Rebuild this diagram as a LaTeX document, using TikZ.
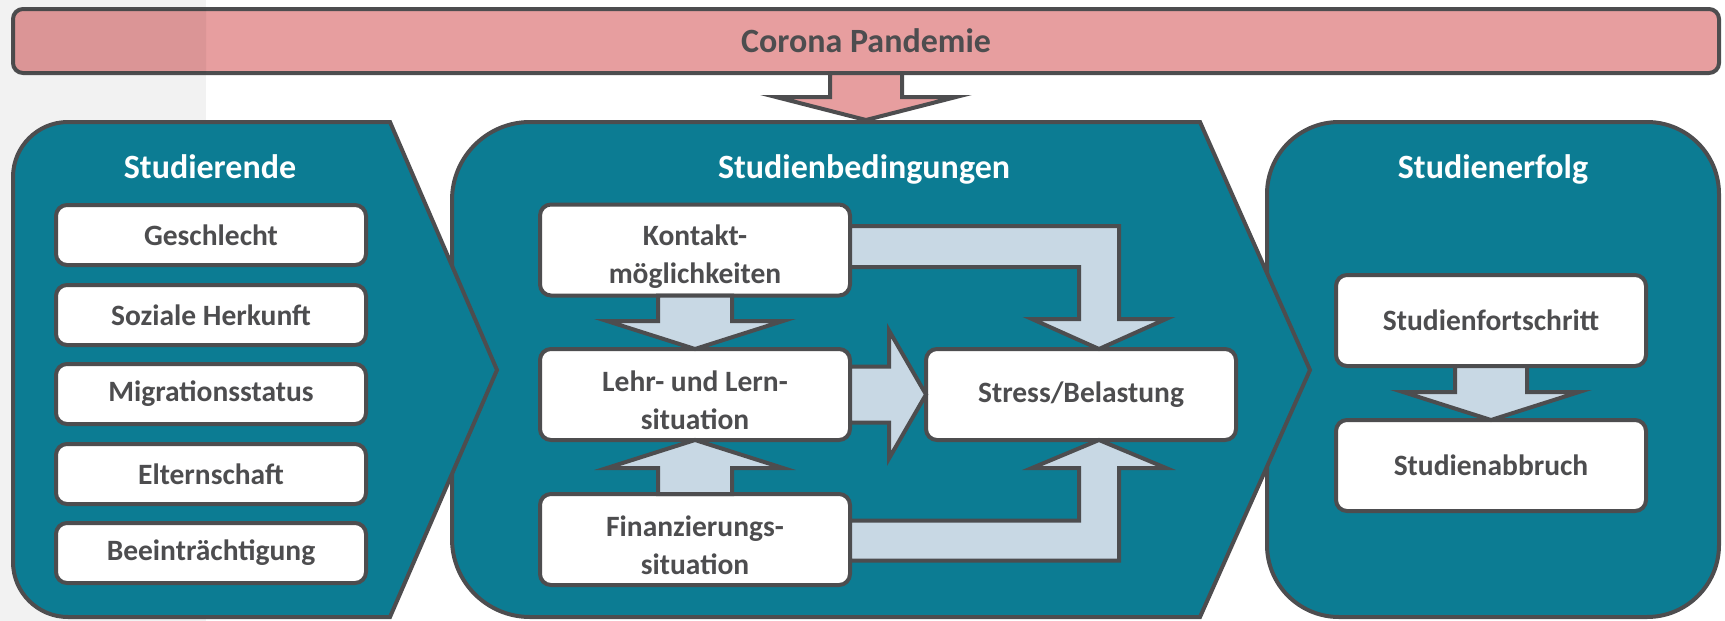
\documentclass[tikz,border=0pt]{standalone}
\usepackage{fontspec}
\setmainfont{Carlito}
\usepackage{xcolor}
\usetikzlibrary{calc}
\definecolor{panelteal}{RGB}{12,124,147}
\definecolor{linegrey}{RGB}{77,77,79}
\definecolor{barpink}{RGB}{231,158,159}
\definecolor{arrowblue}{RGB}{200,216,228}
\definecolor{bggrey}{RGB}{242,242,242}
\newcommand{\upline}{\rule{0pt}{33pt}}

\begin{document}
\begin{tikzpicture}[x=1pt,y=-1pt]
\tikzstyle{panel}=[fill=panelteal,draw=linegrey,line width=4pt]
\tikzstyle{item}=[rectangle,rounded corners=11pt,fill=white,draw=linegrey,line width=4pt,text=linegrey,font=\bfseries\fontsize{29.5}{35}\selectfont,align=center,minimum width=310pt,minimum height=60pt,inner sep=0pt,outer sep=0pt]
\tikzstyle{bigitem}=[item,minimum height=91pt]
\tikzstyle{headline}=[text=white,anchor=base,font=\bfseries\fontsize{34}{40}\selectfont]
\tikzstyle{blockarrow}=[fill=arrowblue,draw=linegrey,line width=4pt,line join=miter]
\tikzstyle{pinkarrow}=[blockarrow,fill=barpink]

\useasboundingbox (0,0) rectangle (1725,621);
\fill[bggrey] (0,0) rectangle (206,621);

\node[draw=linegrey,line width=4pt,fill=barpink,rounded corners=10pt,minimum width=1706pt,minimum height=64pt,inner sep=0pt,outer sep=0pt,text=linegrey,font=\bfseries\fontsize{34}{40}\selectfont] (bar) at (866,41) {Corona Pandemie};
\begin{scope}
\clip (0,0) rectangle (206,100);
\fill[black,fill opacity=.05,rounded corners=10pt] (bar.north west) rectangle (bar.south east);
\end{scope}

\draw[panel,rounded corners=72pt] (1267,122) rectangle (1719,617);
\draw[panel] (530,122) -- (1200,122) -- (1310,370) -- (1200,617) -- (530,617) arc(90:180:78) -- (452,200) arc(180:270:78) -- cycle;
\draw[panel] (68,122) -- (390,122) -- (497,370) -- (390,617) -- (68,617) arc(90:180:55) -- (13,177) arc(180:270:55) -- cycle;

\coordinate (p2top) at (866,120);
\draw[pinkarrow] ($(bar.south)+(-36,0)$) -- ($(p2top)+(-36,-23)$) -- ($(p2top)+(-90,-23)$) -- (p2top) -- ($(p2top)+(90,-23)$) -- ($(p2top)+(36,-23)$) -- ($(bar.south)+(36,0)$) -- cycle;

\node[headline] (t1) at (210,178) {Studierende};
\node[headline] (t2) at (864,178) {Studienbedingungen};
\node[headline] (t3) at (1493,178) {Studienerfolg};

\node[item] (st1) at (211,235) {Geschlecht};
\node[item] (st2) at (211,315) {Soziale Herkunft};
\node[item] (st3) at (211,394) {Migrationsstatus};
\node[item] (st4) at (211,474) {Elternschaft};
\node[item] (st5) at (211,553) {Beeinträchtigung};

\node[bigitem] (kon) at (695,250) {\upline Kontakt-\\[3pt]möglichkeiten};
\node[bigitem] (lehr) at (695,394.5) {\upline Lehr- und Lern-\\[3pt]situation};
\node[bigitem] (fin) at (695,539.5) {\upline Finanzierungs-\\[3pt]situation};
\node[bigitem] (stress) at (1081,394.5) {Stress/Belastung};
\node[bigitem] (fort) at (1491,320.5) {Studienfortschritt};
\node[bigitem] (abb) at (1491,465.5) {Studienabbruch};

\draw[blockarrow] ($(kon.south)+(-37,0)$) -- ($(lehr.north)+(-37,-28)$) -- ($(lehr.north)+(-88,-28)$) -- (lehr.north) -- ($(lehr.north)+(88,-28)$) -- ($(lehr.north)+(37,-28)$) -- ($(kon.south)+(37,0)$) -- cycle;
\draw[blockarrow] ($(fin.north)+(-37,0)$) -- ($(lehr.south)+(-37,28)$) -- ($(lehr.south)+(-88,28)$) -- (lehr.south) -- ($(lehr.south)+(88,28)$) -- ($(lehr.south)+(37,28)$) -- ($(fin.north)+(37,0)$) -- cycle;
\draw[blockarrow] ($(lehr.east)+(0,-28)$) -- ($(stress.west)+(-37,-28)$) -- ($(stress.west)+(-37,-64)$) -- (stress.west) -- ($(stress.west)+(-37,64)$) -- ($(stress.west)+(-37,28)$) -- ($(lehr.east)+(0,28)$) -- cycle;
\draw[blockarrow] ($(kon.east)+(0,-24)$) -| ($(stress.north)+(38,-30)$) -- ($(stress.north)+(85,-30)$) -- ($(stress.north)+(18,0)$) -- ($(stress.north)+(-49,-30)$) -- ($(stress.north)+(-2,-30)$) |- ($(kon.east)+(0,17)$) -- cycle;
\draw[blockarrow] ($(fin.east)+(0,21)$) -| ($(stress.south)+(38,28)$) -- ($(stress.south)+(85,28)$) -- ($(stress.south)+(18,0)$) -- ($(stress.south)+(-49,28)$) -- ($(stress.south)+(-2,28)$) |- ($(fin.east)+(0,-19)$) -- cycle;
\draw[blockarrow] ($(fort.south)+(-36,0)$) -- ($(abb.north)+(-36,-28)$) -- ($(abb.north)+(-88,-28)$) -- (abb.north) -- ($(abb.north)+(88,-28)$) -- ($(abb.north)+(36,-28)$) -- ($(fort.south)+(36,0)$) -- cycle;
\end{tikzpicture}
\end{document}
